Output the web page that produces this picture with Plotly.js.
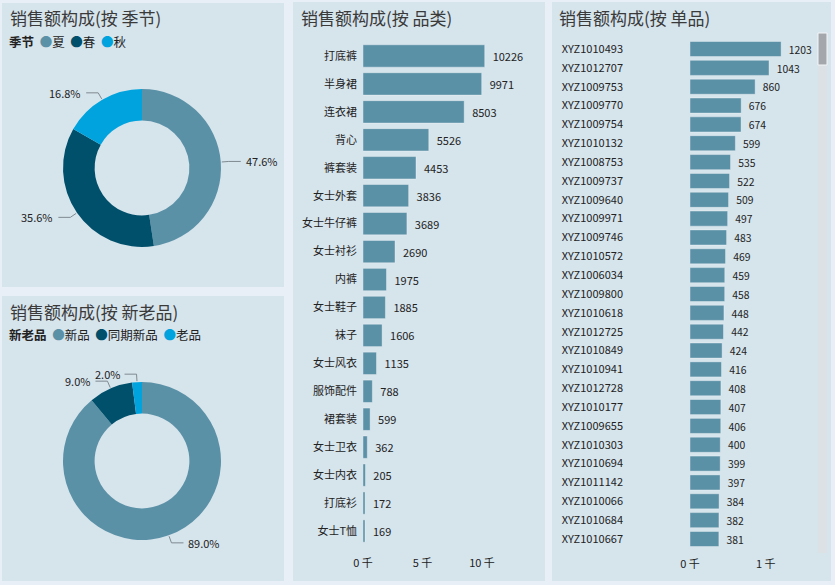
<!DOCTYPE html>
<html><head><meta charset="utf-8">
<script src="https://cdn.plot.ly/plotly-3.0.1.min.js"></script>
<style>html,body{margin:0;padding:0;background:#E9EFF7}</style>
</head><body><div id="chart" style="width:835px;height:585px"></div>
<script>
const seasonLabels = ['夏', '春', '秋'];
const seasonValues = [47.6, 35.6, 16.8];
const ageLabels = ['新品', '同期新品', '老品'];
const ageValues = [89.0, 9.0, 2.0];
const categoryNames = ['打底裤','半身裙','连衣裙','背心','裤套装','女士外套','女士牛仔裤','女士衬衫','内裤','女士鞋子','袜子','女士风衣','服饰配件','裙套装','女士卫衣','女士内衣','打底衫','女士T恤'];
const categoryValues = [10226, 9971, 8503, 5526, 4453, 3836, 3689, 2690, 1975, 1885, 1606, 1135, 788, 599, 362, 205, 172, 169];
const itemNames = ['XYZ1010493','XYZ1012707','XYZ1009753','XYZ1009770','XYZ1009754','XYZ1010132','XYZ1008753','XYZ1009737','XYZ1009640','XYZ1009971','XYZ1009746','XYZ1010572','XYZ1006034','XYZ1009800','XYZ1010618','XYZ1012725','XYZ1010849','XYZ1010941','XYZ1012728','XYZ1010177','XYZ1009655','XYZ1010303','XYZ1010694','XYZ1011142','XYZ1010066','XYZ1010684','XYZ1010667'];
const itemValues = [1203, 1043, 860, 676, 674, 599, 535, 522, 509, 497, 483, 469, 459, 458, 448, 442, 424, 416, 408, 407, 406, 400, 399, 397, 384, 382, 381];
const categoryTickVals = [0, 5000, 10000];
const categoryTickText = ['0 千', '5 千', '10 千'];
const itemTickVals = [0, 1000];
const itemTickText = ['0 千', '1 千'];
const panelTitles = ['销售额构成(按 季节)', '销售额构成(按 新老品)', '销售额构成(按 品类)', '销售额构成(按 单品)'];
const legendTitles = ['季节', '新老品'];

const W = 835, H = 585;
const sliceColors = ['#5B91A7', '#004F6B', '#00A3DD'];
const barColor = '#5B91A7';
const panelColor = '#D6E4EC';
const FONT = '"Noto Sans CJK SC", "Noto Sans", sans-serif';
const px = v => v / W;
const py = v => 1 - v / H;
const NB = '\u00a0';

const PIE_CX = 142, PIE_R = 79;
function pie(labels, values, cy) {
  return {
    type: 'pie', labels: labels, values: values, sort: false, direction: 'clockwise', rotation: 0,
    hole: 0.6, showlegend: false,
    marker: {colors: sliceColors, line: {width: 0}},
    textinfo: 'none',
    domain: {x: [px(PIE_CX - PIE_R), px(PIE_CX + PIE_R)], y: [py(cy + PIE_R), py(cy - PIE_R)]},
    hoverinfo: 'none'
  };
}

const data = [
  pie(seasonLabels, seasonValues, 168),
  pie(ageLabels, ageValues, 461),
  {
    type: 'bar', orientation: 'h', x: categoryValues, y: categoryNames, xaxis: 'x', yaxis: 'y',
    marker: {color: barColor, line: {color: 'rgba(255,255,255,0.35)', width: 1}},
    text: categoryValues.map(v => NB + NB + v), textposition: 'outside', cliponaxis: false,
    textfont: {size: 11, color: '#222', family: FONT}, hoverinfo: 'none', showlegend: false
  },
  {
    type: 'bar', orientation: 'h', x: itemValues, y: itemNames, xaxis: 'x2', yaxis: 'y2',
    marker: {color: barColor, line: {color: 'rgba(255,255,255,0.35)', width: 1}},
    text: itemValues.map(v => NB + NB + v), textposition: 'outside', cliponaxis: false,
    textfont: {size: 11, color: '#222', family: FONT}, hoverinfo: 'none', showlegend: false
  }
];

function legendText(title, labels) {
  let s = '<b>' + title + '</b>' + NB + NB;
  labels.forEach((l, i) => {
    s += (i ? NB + NB : '') + '<span style="color:' + sliceColors[i] + '">●</span>' + l;
  });
  return s;
}

const panels = [[2, 3, 284, 287], [2, 296, 284, 581], [293, 2, 545, 581], [552, 2, 831, 581]];
const shapes = panels.map(p => ({
  type: 'rect', xref: 'paper', yref: 'paper', layer: 'below',
  x0: px(p[0]), x1: px(p[2]), y0: py(p[3]), y1: py(p[1]),
  fillcolor: panelColor, line: {width: 0}
}));
// scrollbar
shapes.push({type: 'rect', xref: 'paper', yref: 'paper', layer: 'above', x0: px(818), x1: px(827), y0: py(553), y1: py(33), fillcolor: '#DCE1E5', line: {width: 0}});
shapes.push({type: 'rect', xref: 'paper', yref: 'paper', layer: 'above', x0: px(818), x1: px(827), y0: py(65), y1: py(33), fillcolor: '#A4A8AC', line: {width: 1, color: '#F4F6F8'}});

const titlePos = [[8, 17], [8, 311], [299, 17], [557, 17]];
const annotations = panelTitles.map((t, i) => ({
  text: t, xref: 'paper', yref: 'paper', x: px(titlePos[i][0]), y: py(titlePos[i][1]),
  xanchor: 'left', yanchor: 'middle', showarrow: false,
  font: {size: 17, color: '#3A3A3A', family: FONT}
}));
annotations.push({text: legendText(legendTitles[0], seasonLabels), xref: 'paper', yref: 'paper', x: px(7), y: py(42), xanchor: 'left', yanchor: 'middle', showarrow: false, font: {size: 12.5, color: '#222', family: FONT}});
annotations.push({text: legendText(legendTitles[1], ageLabels), xref: 'paper', yref: 'paper', x: px(7), y: py(334), xanchor: 'left', yanchor: 'middle', showarrow: false, font: {size: 12.5, color: '#222', family: FONT}});

// pie outside labels with leader lines, derived from the slice values
function pieLabels(values, cy) {
  const total = values.reduce((a, b) => a + b, 0);
  let cum = 0;
  values.forEach(v => {
    const mid = (cum + v / 2) / total * 2 * Math.PI;
    cum += v;
    const s = Math.sin(mid), c = Math.cos(mid);
    const x0 = PIE_CX + (PIE_R + 1) * s, y0 = cy - (PIE_R + 1) * c;
    const x1 = PIE_CX + (PIE_R + 8) * s, y1 = cy - (PIE_R + 8) * c;
    const dir = s >= 0 ? 1 : -1;
    const x2 = x1 + dir * 12;
    shapes.push({type: 'path', xref: 'paper', yref: 'paper', layer: 'above',
      path: 'M' + px(x0) + ',' + py(y0) + 'L' + px(x1) + ',' + py(y1) + 'L' + px(x2) + ',' + py(y1),
      line: {color: '#7F8A90', width: 1}});
    annotations.push({text: (v / total * 100).toFixed(1) + '%', xref: 'paper', yref: 'paper',
      x: px(x2 + dir * 3), y: py(y1), xanchor: dir > 0 ? 'left' : 'right', yanchor: 'middle',
      showarrow: false, font: {size: 11, color: '#222', family: FONT}});
  });
}
pieLabels(seasonValues, 168);
pieLabels(ageValues, 461);

const layout = {
  width: W, height: H, autosize: false, margin: {l: 0, r: 0, t: 0, b: 0},
  paper_bgcolor: '#E9EFF7', plot_bgcolor: 'rgba(0,0,0,0)',
  font: {family: FONT, size: 11, color: '#222'},
  bargap: 0.2, showlegend: false,
  xaxis: {domain: [px(363), px(540)], range: [0, 14870], tickvals: categoryTickVals, ticktext: categoryTickText,
    showgrid: false, zeroline: false, showline: false, ticks: '', ticklabelstandoff: 10, tickfont: {size: 11, color: '#222'}, anchor: 'y'},
  yaxis: {domain: [py(545), py(42)], autorange: 'reversed', type: 'category', showgrid: false, zeroline: false, showline: false,
    ticks: '', ticklabelstandoff: 5, tickfont: {size: 11, color: '#222'}, anchor: 'x'},
  xaxis2: {domain: [px(690), px(812)], range: [0, 1610], tickvals: itemTickVals, ticktext: itemTickText,
    showgrid: false, zeroline: false, showline: false, ticks: '', ticklabelstandoff: 8, tickfont: {size: 11, color: '#222'}, anchor: 'y2'},
  yaxis2: {domain: [py(548.4), py(39.6)], autorange: 'reversed', type: 'category', showgrid: false, zeroline: false, showline: false,
    ticks: '', ticklabelstandoff: 66, tickfont: {size: 11, color: '#222'}, anchor: 'x2'},
  shapes: shapes, annotations: annotations
};

Plotly.newPlot('chart', data, layout, {displayModeBar: false, staticPlot: true});
</script></body></html>
